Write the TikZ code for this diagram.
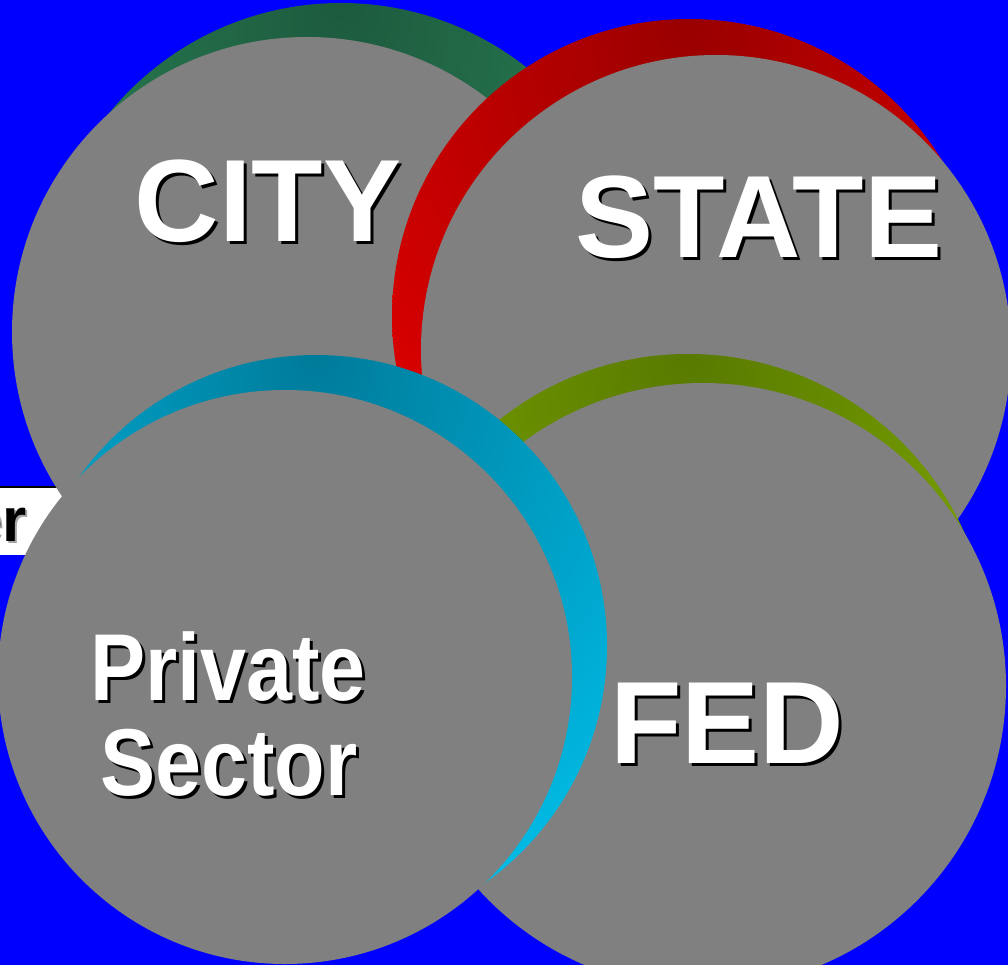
\documentclass[tikz,border=0pt]{standalone}
\usepackage{fontspec}
\setmainfont{Liberation Sans}
\newfontfamily\narrowsans{Liberation Sans}[FakeStretch=0.87]

\definecolor{greentop}{HTML}{1D5A3E}
\definecolor{greenside}{HTML}{2E8E5C}
\definecolor{redtop}{HTML}{990000}
\definecolor{redside}{HTML}{E60000}
\definecolor{olivetop}{HTML}{587A00}
\definecolor{oliveside}{HTML}{86B000}
\definecolor{cyantop}{HTML}{007B9A}
\definecolor{cyanside}{HTML}{00BDE8}
\colorlet{rimtop}{black}
\colorlet{rimside}{black}
% darkest at the top of each rim
\pgfdeclareradialshading[rimtop,rimside]{rimshade}{\pgfpoint{0bp}{25bp}}%
  {color(0bp)=(rimtop); color(40bp)=(rimside); color(100bp)=(rimside)}

\begin{document}
\begin{tikzpicture}[x=1pt,y=-1pt,
    disc/.style={fill=gray},
    rim/.style 2 args={shade,shading=rimshade,
      /utils/exec={\colorlet{rimtop}{#1}\colorlet{rimside}{#2}}},
    lbl/.style={text=white,inner sep=0pt,anchor=base,
      font=\bfseries\fontsize{117}{117}\selectfont},
    small lbl/.style={lbl,font=\narrowsans\bfseries\fontsize{95}{95}\selectfont},
    drop/.style={text=black,xshift=3pt,yshift=-3pt},
    tag/.style={inner sep=0pt,anchor=base east,
      font=\bfseries\fontsize{62}{62}\selectfont}
  ]
  \useasboundingbox (0,0) rectangle (1008,965);
  \clip (0,0) rectangle (1008,965);
  \fill[blue] (0,0) rectangle (1008,965);

  % label box at the left edge
  \fill[white] (-10,487) rectangle (120,555);
  \draw[line width=2pt] (-10,487) -- (120,487);
  \node[tag,text=gray!70,xshift=2pt,yshift=-2pt] (er-s) at (27,541) {er};
  \node[tag] (er) at (27,541) {er};

  % rims and discs
  \shade[rim={greentop}{greenside}] (341,302) circle (299);
  \fill[disc] (307,332) circle (295);
  \shade[rim={redtop}{redside}] (689,316) circle (297);
  \fill[disc] (716,350) circle (295);
  \shade[rim={olivetop}{oliveside}] (688,657) circle (303);
  \fill[disc] (703,686) circle (303);
  \shade[rim={cyantop}{cyanside}] (316,646) circle (291);
  \fill[disc] (285,677) circle (287);

  % labels
  \node[lbl,drop] (city-s) at (268,242) {CITY};
  \node[lbl] (city) at (268,242) {CITY};
  \node[lbl,drop] (state-s) at (759,258) {STATE};
  \node[lbl] (state) at (759,258) {STATE};
  \node[lbl,drop] (fed-s) at (727,763) {FED};
  \node[lbl] (fed) at (727,763) {FED};
  \node[small lbl,drop] (private-s) at (228,700) {Private};
  \node[small lbl] (private) at (228,700) {Private};
  \node[small lbl,drop] (sector-s) at (229,795) {Sector};
  \node[small lbl] (sector) at (229,795) {Sector};
\end{tikzpicture}
\end{document}
